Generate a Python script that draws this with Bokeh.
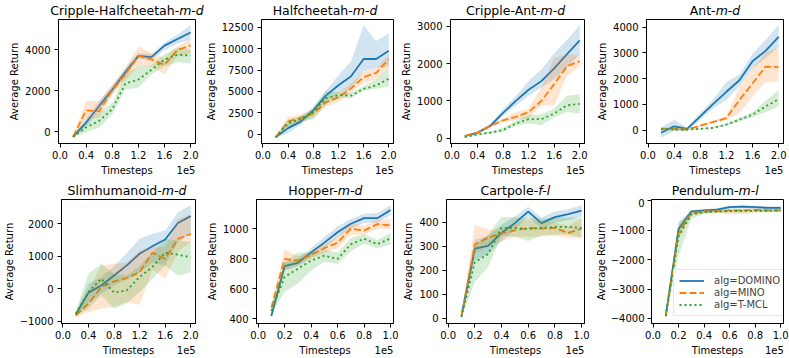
from bokeh.plotting import figure
from bokeh.layouts import row, column
from bokeh.models import (Label, FixedTicker, Legend, LegendItem, Range1d, LinearAxis,
                          PrintfTickFormatter, CustomJSTickFormatter)
from bokeh.embed import file_html
from bokeh.resources import INLINE

# ---------------- data (x in units of 1e5 timesteps) ----------------
steps_2e5 = [0.2, 0.4, 0.6, 0.8, 1.0, 1.2, 1.4, 1.6, 1.8, 2.0]
steps_1e5 = [0.1, 0.2, 0.3, 0.4, 0.5, 0.6, 0.7, 0.8, 0.9, 1.0]

# Cripple-Halfcheetah-m-d
chc_domino    = [-240, 450, 1260, 2060, 2900, 3710, 3650, 4210, 4530, 4850]
chc_domino_lo = [-300, 250, 1000, 1850, 2700, 3550, 3500, 4000, 4300, 4480]
chc_domino_hi = [-180, 650, 1500, 2250, 3100, 3850, 3800, 4350, 4750, 5210]
chc_mino      = [-250, 1050, 1000, 2030, 2790, 3710, 3520, 3270, 4000, 4210]
chc_mino_lo   = [-300, 610, 700, 1800, 2500, 3190, 3200, 2800, 3700, 3840]
chc_mino_hi   = [-200, 1500, 1500, 2300, 3100, 4160, 3850, 3600, 4200, 4480]
chc_tmcl      = [-250, 210, 530, 1100, 2350, 2550, 3030, 3520, 3760, 3730]
chc_tmcl_lo   = [-300, -30, 210, 850, 2060, 2150, 2800, 3200, 3400, 3350]
chc_tmcl_hi   = [-200, 450, 940, 1400, 2790, 3190, 3250, 3800, 4100, 4000]

# Halfcheetah-m-d
hc_domino    = [-380, 690, 1450, 2780, 4500, 5720, 6780, 8800, 8800, 9760]
hc_domino_lo = [-450, 110, 1100, 2400, 3930, 4800, 5220, 7350, 7740, 7900]
hc_domino_hi = [-300, 1070, 1800, 3200, 5070, 6900, 8500, 12770, 10900, 11800]
hc_mino      = [-380, 1450, 1900, 2400, 3730, 4300, 5330, 6670, 7160, 8770]
hc_mino_lo   = [-450, 880, 1500, 1900, 3200, 3800, 4800, 6000, 6400, 7700]
hc_mino_hi   = [-300, 2020, 2300, 2900, 4200, 4800, 5900, 7300, 7700, 9300]
hc_tmcl      = [-380, 1260, 1750, 2590, 4200, 4570, 4500, 5300, 5700, 6480]
hc_tmcl_lo   = [-450, 900, 1450, 1700, 3500, 4200, 4200, 5100, 5300, 5560]
hc_tmcl_hi   = [-300, 1700, 2100, 3000, 5070, 4900, 4800, 5600, 6400, 7740]

# Cripple-Ant-m-d
ca_domino    = [60, 150, 330, 680, 1000, 1300, 1530, 1870, 2250, 2620]
ca_domino_lo = [40, 120, 290, 600, 880, 1140, 1360, 1580, 1890, 2240]
ca_domino_hi = [80, 180, 370, 780, 1130, 1535, 1840, 2280, 2630, 3030]
ca_mino      = [60, 150, 330, 480, 570, 700, 1000, 1450, 1930, 2060]
ca_mino_lo   = [40, 120, 290, 440, 480, 530, 880, 880, 1670, 1930]
ca_mino_hi   = [80, 180, 370, 530, 700, 790, 1360, 2150, 2240, 2240]
ca_tmcl      = [30, 100, 150, 220, 395, 510, 510, 660, 880, 920]
ca_tmcl_lo   = [10, 70, 120, 170, 330, 400, 350, 560, 700, 660]
ca_tmcl_hi   = [50, 130, 180, 270, 460, 620, 640, 800, 1140, 1180]

# Ant-m-d
ant_domino    = [-100, 150, 50, 535, 1020, 1490, 1940, 2675, 3080, 3620]
ant_domino_lo = [-300, -40, 0, 400, 850, 1170, 1700, 2380, 2800, 3210]
ant_domino_hi = [100, 400, 100, 680, 1200, 1870, 2150, 2960, 3500, 4080]
ant_mino      = [50, 50, 25, 170, 320, 470, 1170, 1810, 2470, 2450]
ant_mino_lo   = [0, 0, -20, 130, 270, 400, 660, 1300, 1870, 1870]
ant_mino_hi   = [100, 100, 70, 210, 370, 540, 1680, 2380, 3020, 3210]
ant_tmcl      = [50, 25, 25, 50, 90, 215, 410, 600, 920, 1200]
ant_tmcl_lo   = [0, -10, 0, 20, 60, 170, 340, 500, 700, 920]
ant_tmcl_hi   = [100, 60, 50, 80, 120, 260, 480, 700, 1140, 1550]

# Slimhumanoid-m-d
sh_domino    = [-800, -120, 100, 410, 720, 1080, 1310, 1520, 2030, 2240]
sh_domino_lo = [-880, -460, -150, 100, 300, 510, 800, 720, 1440, 1690]
sh_domino_hi = [-720, 150, 350, 700, 1100, 1540, 1700, 1800, 2360, 2580]
sh_mino      = [-820, -460, 50, 225, 330, 510, 1110, 920, 1540, 1690]
sh_mino_lo   = [-900, -720, -615, -560, -400, -500, 600, 300, 1130, 1440]
sh_mino_hi   = [-740, -50, 720, 770, 800, 1180, 1300, 1280, 2150, 2300]
sh_tmcl      = [-770, -100, 310, -120, -50, 360, 670, 1110, 1050, 970]
sh_tmcl_lo   = [-850, -615, -200, -615, -460, -100, 300, 720, 410, 510]
sh_tmcl_hi   = [-700, 460, 770, 460, 410, 700, 1100, 1540, 1490, 1440]

# Hopper-m-d
hop_domino    = [417, 750, 772, 841, 907, 976, 1033, 1070, 1070, 1124]
hop_domino_lo = [405, 722, 750, 810, 870, 939, 1000, 1040, 1040, 1091]
hop_domino_hi = [430, 772, 800, 870, 945, 1015, 1065, 1100, 1105, 1157]
hop_mino      = [472, 798, 787, 826, 870, 907, 1000, 987, 1030, 1022]
hop_mino_lo   = [450, 722, 760, 800, 840, 870, 961, 960, 1000, 993]
hop_mino_hi   = [493, 863, 815, 850, 900, 945, 1037, 1020, 1060, 1059]
hop_tmcl      = [450, 678, 733, 787, 820, 798, 896, 933, 896, 935]
hop_tmcl_lo   = [430, 580, 635, 720, 780, 765, 850, 900, 870, 896]
hop_tmcl_hi   = [470, 776, 841, 840, 860, 841, 940, 965, 925, 972]

# Cartpole-f-l
cp_domino    = [10, 291, 302, 356, 397, 445, 397, 422, 435, 449]
cp_domino_lo = [5, 241, 268, 320, 370, 424, 375, 400, 410, 424]
cp_domino_hi = [15, 329, 343, 390, 425, 465, 420, 445, 455, 472]
cp_mino      = [10, 309, 336, 354, 367, 377, 374, 377, 356, 374]
cp_mino_lo   = [5, 268, 300, 322, 340, 340, 340, 345, 335, 336]
cp_mino_hi   = [15, 390, 370, 371, 395, 410, 405, 400, 385, 418]
cp_tmcl      = [5, 234, 268, 377, 377, 373, 377, 381, 381, 377]
cp_tmcl_lo   = [2, 152, 214, 343, 340, 322, 345, 350, 350, 336]
cp_tmcl_hi   = [10, 302, 350, 424, 420, 418, 415, 420, 420, 418]

# Pendulum-m-l
pd_domino    = [-3890, -960, -365, -330, -300, -220, -200, -220, -240, -240]
pd_domino_lo = [-3950, -1160, -420, -380, -350, -280, -260, -280, -300, -300]
pd_domino_hi = [-3830, -770, -320, -290, -250, -170, -150, -170, -190, -190]
pd_mino      = [-3920, -1100, -420, -365, -355, -330, -330, -310, -330, -330]
pd_mino_lo   = [-3980, -1300, -500, -420, -420, -460, -460, -400, -380, -380]
pd_mino_hi   = [-3860, -900, -350, -320, -300, -280, -270, -260, -280, -280]
pd_tmcl      = [-3920, -1215, -465, -390, -370, -350, -350, -340, -340, -330]
pd_tmcl_lo   = [-3980, -1880, -610, -450, -420, -400, -400, -390, -390, -380]
pd_tmcl_hi   = [-3860, -720, -330, -340, -330, -300, -300, -300, -300, -290]

alg_labels = ["alg=DOMINO", "alg=MINO", "alg=T-MCL"]
xticks_2e5 = [0.0, 0.4, 0.8, 1.2, 1.6, 2.0]
xticks_1e5 = [0.0, 0.2, 0.4, 0.6, 0.8, 1.0]

# ---------------- styling / layout ----------------
COLORS = ["#1f77b4", "#ff7f0e", "#2ca02c"]
DASHES = ["solid", "7 3", "2 3"]
FONT = "DejaVu Sans"
TITLE_SIZE = 12.5

# DejaVu Sans advance widths (1/2048 em) used to centre the two-style titles
DV = {' ': 651, '-': 739, 'A': 1401, 'C': 1430, 'H': 1540, 'P': 1235, 'S': 1300,
      'a': 1255, 'c': 1126, 'd': 1300, 'e': 1260, 'f': 721, 'h': 1298, 'i': 569,
      'l': 569, 'm': 1995, 'n': 1298, 'o': 1253, 'p': 1300, 'r': 842, 't': 803,
      'u': 1298, '1': 1303, '5': 1303}


def text_w(s, size):
    return sum(DV.get(c, 1250) for c in s) / 2048.0 * size


COL_W = [202, 196, 194, 197]
COL_BL = [58, 54, 48, 54]
COL_BR = [7, 5, 8, 6]
TOTAL_W = sum(COL_W)
ROW_H = [162, 160]
ROW_BT = 1
ROW_BB = [37, 35]
STRIP_H = 18
TITLE_Y = 8.3

yfmt_code = "return (tick < 0 ? '\\u2212' : '') + Math.abs(Math.round(tick)).toString();"


def frame_geom(c):
    left = sum(COL_W[:c]) + COL_BL[c]
    fw = COL_W[c] - COL_BL[c] - COL_BR[c]
    return left, fw


def style_axis(ax):
    ax.major_tick_out = 4
    ax.major_tick_in = 0
    ax.minor_tick_out = 0
    ax.minor_tick_in = 0
    ax.major_tick_line_color = "black"
    ax.axis_line_color = "black"
    ax.major_label_text_font = FONT
    ax.major_label_text_font_size = "10px"
    ax.major_label_text_color = "black"
    ax.axis_label_text_font = FONT
    ax.axis_label_text_font_size = "10px"
    ax.axis_label_text_font_style = "normal"
    ax.axis_label_text_color = "black"


def panel(r, c, x, series, xr, xticks, yticks, legend=False,
          ymaj_standoff=4, ylab_standoff=2):
    width = COL_W[c]
    bl, br = COL_BL[c], COL_BR[c]
    lo = min(min(s[1]) for s in series)
    hi = max(max(s[2]) for s in series)
    pad = 0.05 * (hi - lo)
    p = figure(width=width, height=ROW_H[r], x_range=Range1d(*xr),
               y_range=Range1d(lo - pad, hi + pad), output_backend="svg",
               toolbar_location=None, title=None,
               min_border_left=bl, min_border_right=br,
               min_border_top=ROW_BT, min_border_bottom=ROW_BB[r])
    p.background_fill_color = "white"
    p.border_fill_color = "white"
    p.outline_line_color = "black"
    p.outline_line_width = 1
    p.xgrid.visible = False
    p.ygrid.visible = False

    p.xaxis.ticker = FixedTicker(ticks=xticks)
    p.xaxis.formatter = PrintfTickFormatter(format="%.1f")
    p.yaxis.ticker = FixedTicker(ticks=yticks)
    p.yaxis.formatter = CustomJSTickFormatter(code=yfmt_code)
    style_axis(p.xaxis[0])
    style_axis(p.yaxis[0])
    p.xaxis.major_label_standoff = 3
    p.yaxis.axis_label = "Average Return"
    p.yaxis.major_label_standoff = ymaj_standoff
    p.yaxis.axis_label_standoff = ylab_standoff

    # second bottom axis carrying "Timesteps" (centred) and the "1e5" offset text
    fw = width - bl - br
    units_per_px = (xr[1] - xr[0]) / fw
    mid = (xr[0] + xr[1]) / 2.0
    off = xr[1] - text_w("1e5", 10) / 2.0 * units_per_px
    lab = LinearAxis(ticker=FixedTicker(ticks=[mid, off]),
                     formatter=CustomJSTickFormatter(
                         args=dict(mid=(mid + off) / 2.0),
                         code="return tick < mid ? 'Timesteps' : '1e5';"))
    style_axis(lab)
    lab.axis_line_color = None
    lab.major_tick_line_color = None
    lab.major_tick_out = 0
    lab.major_label_standoff = 3
    p.add_layout(lab, "below")

    line_rs = []
    for k, (mean, lo_, hi_) in enumerate(series):
        lr = p.line(x, mean, line_color=COLORS[k], line_width=1.8,
                    line_dash=DASHES[k])
        p.varea(x=x, y1=lo_, y2=hi_, fill_color=COLORS[k], fill_alpha=0.2)
        line_rs.append(lr)

    if legend:
        leg = Legend(items=[LegendItem(label=alg_labels[k], renderers=[line_rs[k]])
                            for k in range(3)],
                     location=(22, 7))
        leg.label_text_font = FONT
        leg.label_text_font_size = "10px"
        leg.glyph_width = 25
        leg.glyph_height = 11
        leg.label_height = 11
        leg.spacing = 1
        leg.padding = 5
        leg.margin = 0
        leg.label_standoff = 10
        leg.border_line_color = "#cccccc"
        leg.border_line_width = 1
        leg.background_fill_color = "white"
        leg.background_fill_alpha = 0.8
        p.add_layout(leg)
    return p


def strip(h):
    s = figure(width=TOTAL_W, height=h, x_range=Range1d(0, TOTAL_W),
               y_range=Range1d(0, h), output_backend="svg", toolbar_location=None,
               title=None, x_axis_type=None, y_axis_type=None, min_border=0)
    s.outline_line_color = None
    s.xgrid.visible = False
    s.ygrid.visible = False
    s.background_fill_color = "white"
    s.border_fill_color = "white"
    return s


def label(s, x, y, text, align, size, style="normal"):
    s.add_layout(Label(x=x, y=y, x_units="screen", y_units="screen", text=text,
                       text_align=align, text_baseline="alphabetic",
                       text_line_height=1.0, text_font=FONT,
                       text_font_size=size, text_font_style=style,
                       text_color="black"))


def add_title(s, c, tnorm, tital, y):
    left, fw = frame_geom(c)
    wn, wi = text_w(tnorm, TITLE_SIZE), text_w(tital, TITLE_SIZE)
    xs = left + fw / 2.0 + (wn - wi) / 2.0
    size = "%.1fpx" % TITLE_SIZE
    label(s, xs, y, tnorm, "right", size)
    label(s, xs, y, tital, "left", size, "italic")


XR2 = (-0.023, 2.075)
XR1 = (-0.012, 1.022)

p1 = panel(0, 0, steps_2e5, [(chc_domino, chc_domino_lo, chc_domino_hi),
                             (chc_mino, chc_mino_lo, chc_mino_hi),
                             (chc_tmcl, chc_tmcl_lo, chc_tmcl_hi)],
           XR2, xticks_2e5, [0, 2000, 4000])
p2 = panel(0, 1, steps_2e5, [(hc_domino, hc_domino_lo, hc_domino_hi),
                             (hc_mino, hc_mino_lo, hc_mino_hi),
                             (hc_tmcl, hc_tmcl_lo, hc_tmcl_hi)],
           XR2, xticks_2e5, [0, 2500, 5000, 7500, 10000, 12500])
p3 = panel(0, 2, steps_2e5, [(ca_domino, ca_domino_lo, ca_domino_hi),
                             (ca_mino, ca_mino_lo, ca_mino_hi),
                             (ca_tmcl, ca_tmcl_lo, ca_tmcl_hi)],
           XR2, xticks_2e5, [0, 1000, 2000, 3000])
p4 = panel(0, 3, steps_2e5, [(ant_domino, ant_domino_lo, ant_domino_hi),
                             (ant_mino, ant_mino_lo, ant_mino_hi),
                             (ant_tmcl, ant_tmcl_lo, ant_tmcl_hi)],
           XR2, xticks_2e5, [0, 1000, 2000, 3000, 4000])
p5 = panel(1, 0, steps_2e5, [(sh_domino, sh_domino_lo, sh_domino_hi),
                             (sh_mino, sh_mino_lo, sh_mino_hi),
                             (sh_tmcl, sh_tmcl_lo, sh_tmcl_hi)],
           XR2, xticks_2e5, [-1000, 0, 1000, 2000])
p6 = panel(1, 1, steps_1e5, [(hop_domino, hop_domino_lo, hop_domino_hi),
                             (hop_mino, hop_mino_lo, hop_mino_hi),
                             (hop_tmcl, hop_tmcl_lo, hop_tmcl_hi)],
           XR1, xticks_1e5, [400, 600, 800, 1000])
p7 = panel(1, 2, steps_1e5, [(cp_domino, cp_domino_lo, cp_domino_hi),
                             (cp_mino, cp_mino_lo, cp_mino_hi),
                             (cp_tmcl, cp_tmcl_lo, cp_tmcl_hi)],
           XR1, xticks_1e5, [0, 100, 200, 300, 400])
p8 = panel(1, 3, steps_1e5, [(pd_domino, pd_domino_lo, pd_domino_hi),
                             (pd_mino, pd_mino_lo, pd_mino_hi),
                             (pd_tmcl, pd_tmcl_lo, pd_tmcl_hi)],
           XR1, xticks_1e5, [-4000, -3000, -2000, -1000, 0], legend=True,
           ymaj_standoff=3, ylab_standoff=1)

s0 = strip(STRIP_H)
s1 = strip(STRIP_H)

titles_top = [("Cripple-Halfcheetah-", "m-d"), ("Halfcheetah-", "m-d"),
              ("Cripple-Ant-", "m-d"), ("Ant-", "m-d")]
titles_bot = [("Slimhumanoid-", "m-d"), ("Hopper-", "m-d"),
              ("Cartpole-", "f-l"), ("Pendulum-", "m-l")]
for c in range(4):
    add_title(s0, c, titles_top[c][0], titles_top[c][1], TITLE_Y)
    add_title(s1, c, titles_bot[c][0], titles_bot[c][1], TITLE_Y)

layout = column(s0, row(p1, p2, p3, p4), s1, row(p5, p6, p7, p8))

open("out.html", "w").write(file_html(layout, INLINE))
